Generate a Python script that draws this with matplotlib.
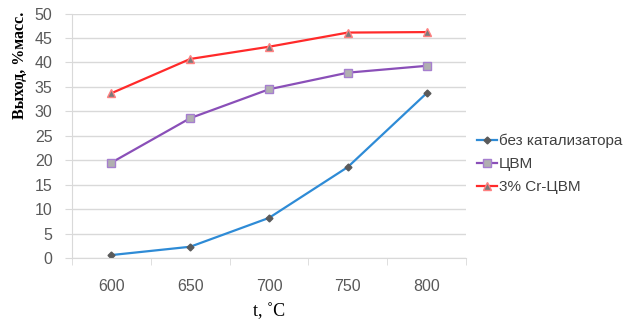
import matplotlib.pyplot as plt
import numpy as np

# data
temps = ['600', '650', '700', '750', '800']
no_cat = [0.6, 2.3, 8.2, 18.6, 33.7]
cvm = [19.5, 28.6, 34.5, 37.9, 39.3]
cr_cvm = [33.7, 40.7, 43.2, 46.1, 46.2]
labels = ['без катализатора', 'ЦВМ', '3% Cr-ЦВМ']

plt.rcParams['font.family'] = ['Liberation Sans', 'DejaVu Sans']

fig = plt.figure(figsize=(6.35, 3.31), dpi=100)
ax = fig.add_axes([72/635, 1-258/331, (466-72)/635, (258-13.5)/331])

x = np.arange(len(temps))
ax.plot(x, no_cat, color='#2e8bd6', lw=1.6, marker='D', ms=3.5,
        mfc='#5a5a5a', mec='#5a5a5a', label=labels[0])
ax.plot(x, cvm, color='#8a4fb8', lw=1.6, marker='s', ms=5.5,
        mfc='#b0b0b0', mec='#a67fcf', label=labels[1])
ax.plot(x, cr_cvm, color='#ff2a2a', lw=1.6, marker='^', ms=5.5,
        mfc='#7a7a7a', mec='#ff8080', label=labels[2])

ax.set_xlim(-0.5, len(temps) - 0.5)
ax.set_ylim(0, 50)
ax.set_yticks(np.arange(0, 51, 5))
ax.set_xticks(x)
ax.set_xticklabels(temps)
ax.set_xticks(np.arange(-0.5, len(temps)), minor=True)
ax.tick_params(axis='x', which='major', length=0, pad=15, labelsize=11.5, labelcolor='#595959')
ax.tick_params(axis='x', which='minor', length=5, color='#d9d9d9', direction='out')
ax.tick_params(axis='y', length=5, color='#d9d9d9', labelsize=11.5, labelcolor='#595959', pad=9)

ax.grid(axis='y', color='#d9d9d9', lw=1)
ax.set_axisbelow(True)
for s in ['top', 'right']:
    ax.spines[s].set_visible(False)
ax.spines['left'].set_color('#d9d9d9')
ax.spines['bottom'].set_color('#d9d9d9')

ax.set_ylabel('Выход, %масс.', family='Liberation Serif', fontweight='bold', fontsize=11.5)
ax.yaxis.set_label_coords(-0.112, 0.79)
ax.set_xlabel('t, ˚C', family='Liberation Serif', fontsize=13, labelpad=7)

ax.legend(loc='center left', bbox_to_anchor=(1.0, 0.385), frameon=False, fontsize=11,
          handlelength=1.3, handletextpad=0.15, labelspacing=0.6, labelcolor='#404040',
          borderaxespad=0.3)

fig.savefig('out.png', dpi=100)
